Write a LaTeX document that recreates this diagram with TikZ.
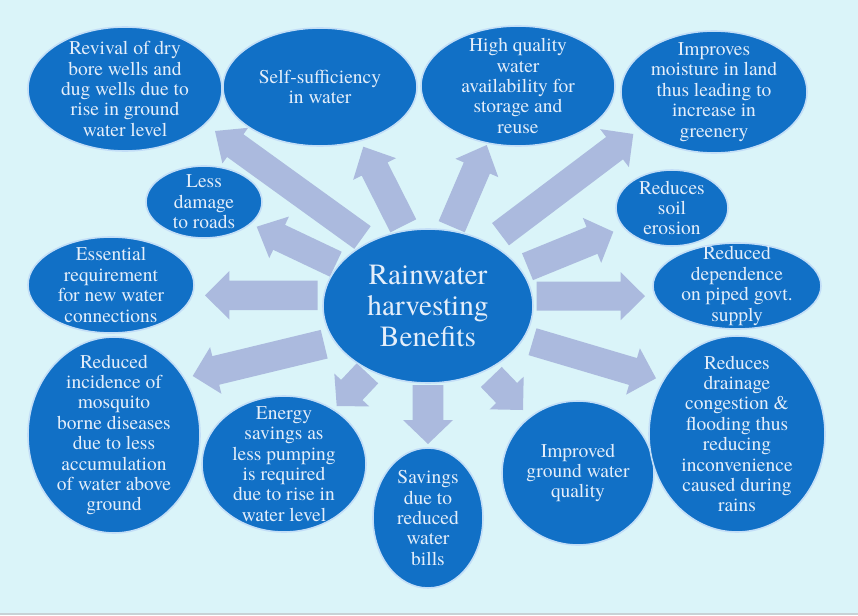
\documentclass[tikz,border=0pt]{standalone}
\usepackage{fontspec}
\setmainfont{texgyretermes}[Extension=.otf, UprightFont=*-regular, BoldFont=*-bold, ItalicFont=*-italic, BoldItalicFont=*-bolditalic]
\usetikzlibrary{shapes.geometric,calc}
\definecolor{bgc}{RGB}{218,244,249}
\definecolor{nodeblue}{RGB}{17,112,198}
\definecolor{nodeedge}{RGB}{195,222,247}
\definecolor{arrowc}{RGB}{171,186,222}
\definecolor{txtc}{RGB}{228,238,250}
\definecolor{stripc}{RGB}{200,210,214}
\tikzset{
  blob/.style={ellipse, fill=nodeblue, draw=nodeedge, line width=1.6pt, inner sep=0pt},
  txt/.style={align=center, text=txtc, inner sep=0pt, font=\fontsize{19.5}{20.4}\selectfont},
  bigtxt/.style={align=center, text=txtc, inner sep=0pt, font=\fontsize{29.3}{31}\selectfont},
  arrowfill/.style={fill=arrowc},
}
% block arrow: #1 tail, #2 tip, #3 shaft half width, #4 head half width, #5 head length
\newcommand\blockarr[5]{%
  \coordinate (hb) at ($(#2)!#5!(#1)$);
  \fill[arrowfill] ($(#1)!#3!90:(#2)$) -- ($(hb)!#3!90:(#2)$) -- ($(hb)!#4!90:(#2)$)
     -- (#2) -- ($(hb)!#4!-90:(#2)$) -- ($(hb)!#3!-90:(#2)$) -- ($(#1)!#3!-90:(#2)$) -- cycle;}
\begin{document}
\begin{tikzpicture}[x=1pt,y=-1pt]
\useasboundingbox (0,0) rectangle (858,615);
\fill[bgc] (0,0) rectangle (858,615);
\fill[stripc] (0,613) rectangle (858,615);

% arrow end points
\coordinate (t1) at (362.5,237.5);  \coordinate (p1) at (215,131);
\coordinate (t2) at (335.8,264.2);  \coordinate (p2) at (256.7,226.7);
\coordinate (t3) at (403.3,225.8);  \coordinate (p3) at (363.3,146.7);
\coordinate (t4) at (451.7,226.7);  \coordinate (p4) at (486.7,145);
\coordinate (t5) at (500.5,234.2);  \coordinate (p5) at (633.3,134);
\coordinate (t6) at (527.5,266.7);  \coordinate (p6) at (613.3,231.7);
\coordinate (t7) at (536.7,296.2);  \coordinate (p7) at (645,296.2);
\coordinate (t8) at (532.5,341.7);  \coordinate (p8) at (656,378.3);
\coordinate (t9) at (491.3,377);    \coordinate (p9) at (523,410);
\coordinate (t10) at (428,385);     \coordinate (p10) at (428,444);
\coordinate (t11) at (367.5,373.3); \coordinate (p11) at (336.7,406);
\coordinate (t12) at (324.2,344.2); \coordinate (p12) at (192.7,376);
\coordinate (t13) at (317.7,295.3); \coordinate (p13) at (205,295.3);

\blockarr{t1}{p1}{14pt}{22pt}{25pt}
\blockarr{t2}{p2}{13.8pt}{23pt}{24.8pt}
\blockarr{t3}{p3}{14.5pt}{24pt}{25pt}
\blockarr{t4}{p4}{14.2pt}{23.3pt}{25pt}
\blockarr{t5}{p5}{14pt}{23.8pt}{23.5pt}
\blockarr{t6}{p6}{14.5pt}{24.3pt}{23pt}
\blockarr{t7}{p7}{14.5pt}{24pt}{24.3pt}
\blockarr{t8}{p8}{14pt}{24.2pt}{24pt}
\blockarr{t9}{p9}{14.5pt}{23.6pt}{23.6pt}
\blockarr{t10}{p10}{15.3pt}{25pt}{24pt}
\blockarr{t11}{p11}{14.7pt}{24pt}{22pt}
\blockarr{t12}{p12}{14.7pt}{24pt}{23.7pt}
\blockarr{t13}{p13}{14.7pt}{24.2pt}{24.3pt}

% ellipses
\node[blob, minimum width=194pt, minimum height=124pt] (e1) at (125,89) {};
\node[blob, minimum width=194pt, minimum height=118pt] (e2) at (320,87) {};
\node[blob, minimum width=194pt, minimum height=120pt] (e3) at (518,86) {};
\node[blob, minimum width=186pt, minimum height=122pt] (e4) at (714,92) {};
\node[blob, minimum width=116pt, minimum height=72pt] (e5) at (204,202) {};
\node[blob, minimum width=112pt, minimum height=76pt] (e6) at (672,208) {};
\node[blob, minimum width=166pt, minimum height=96pt] (e7) at (111,285) {};
\node[blob, minimum width=168pt, minimum height=86pt] (e8) at (737,286) {};
\node[blob, minimum width=210pt, minimum height=154pt] (e9) at (428,306) {};
\node[blob, minimum width=172pt, minimum height=196pt] (e10) at (114,435) {};
\node[blob, minimum width=164pt, minimum height=136pt] (e11) at (284,464) {};
\node[blob, minimum width=110pt, minimum height=140pt] (e12) at (428,518) {};
\node[blob, minimum width=152pt, minimum height=144pt] (e13) at (578,473) {};
\node[blob, minimum width=176pt, minimum height=196pt] (e14) at (737,434) {};

% texts
\node[txt] (x1) at (e1) {Revival of dry\\bore wells and\\dug wells due to\\rise in ground\\water level};
\node[txt] (x2) at (e2) {Self-sufficiency\\in water};
\node[txt] (x3) at (e3) {High quality\\water\\availability for\\storage and\\reuse};
\node[txt] (x4) at (e4) {Improves\\moisture in land\\thus leading to\\increase in\\greenery};
\node[txt] (x5) at (e5) {Less\\damage\\to roads};
\node[txt] (x6) at (e6) {Reduces\\soil\\erosion};
\node[txt] (x7) at (e7) {Essential\\requirement\\for new water\\connections};
\node[txt] (x8) at (e8) {Reduced\\dependence\\on piped govt.\\supply};
\node[bigtxt] (x9) at (e9) {Rainwater\\harvesting\\Benefits};
\node[txt] (x10) at (e10) {Reduced\\incidence of\\mosquito\\borne diseases\\due to less\\accumulation\\of water above\\ground};
\node[txt] (x11) at (e11) {Energy\\savings as\\less pumping\\is required\\due to rise in\\water level};
\node[txt] (x12) at (e12) {Savings\\due to\\reduced\\water\\bills};
\node[txt] (x13) at (e13) {Improved\\ground water\\quality};
\node[txt] (x14) at (e14) {Reduces\\drainage\\congestion \&\\flooding thus\\reducing\\inconvenience\\caused during\\rains};
\end{tikzpicture}
\end{document}
